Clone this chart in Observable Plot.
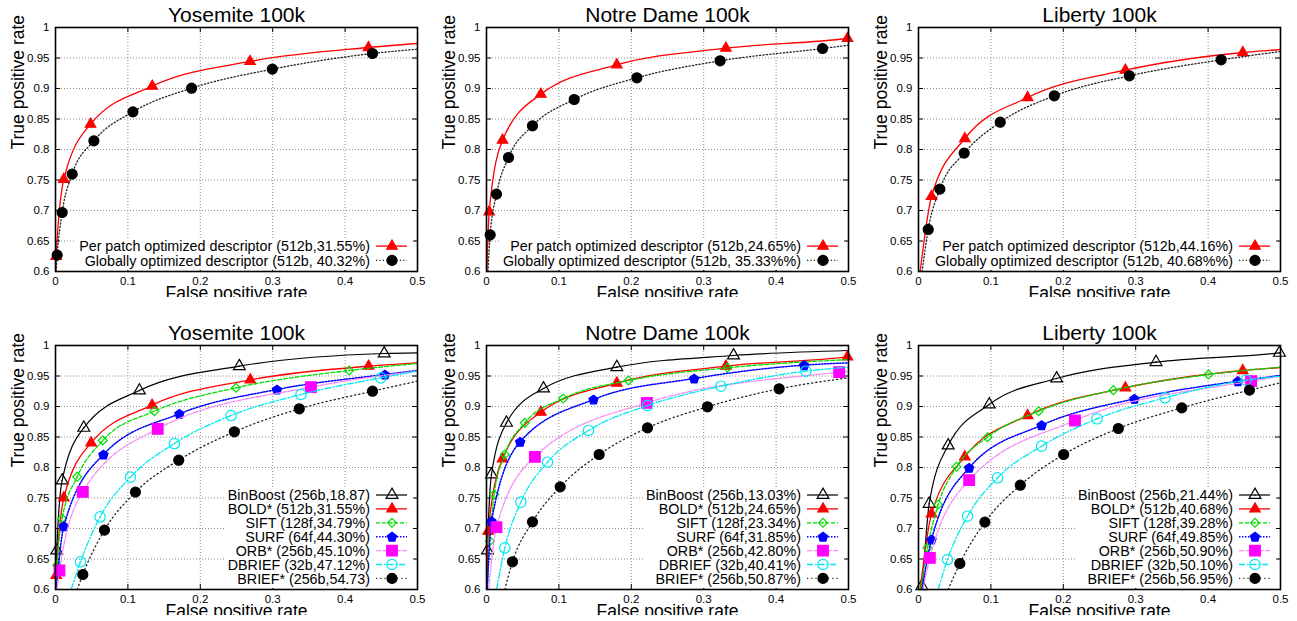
<!DOCTYPE html>
<html><head><meta charset="utf-8">
<script src="https://cdn.jsdelivr.net/npm/d3@7"></script>
<script src="https://cdn.jsdelivr.net/npm/@observablehq/plot@0.6"></script>
<style>
html,body{margin:0;padding:0;background:#fff;}
body{width:1297px;height:621px;overflow:hidden;position:relative;font-family:"Liberation Sans",Arial,sans-serif;}
.panel{position:absolute;}
.panel svg{overflow:hidden;display:block;}
</style></head>
<body>
<script>
// ---------- axis ticks ----------
const xTicks = [0, 0.1, 0.2, 0.3, 0.4, 0.5];
const yTicks = [0.6, 0.65, 0.7, 0.75, 0.8, 0.85, 0.9, 0.95, 1];
const xGrid = [0.1, 0.2, 0.3, 0.4];
const yGrid = [0.65, 0.7, 0.75, 0.8, 0.85, 0.9, 0.95];

// ---------- titles / labels ----------
const titles = ["Yosemite 100k", "Notre Dame 100k", "Liberty 100k"];
const xLabel = "False positive rate";
const yLabel = "True positive rate";
const topLabels = [
  ["Per patch optimized descriptor (512b,31.55%)", "Globally optimized descriptor (512b, 40.32%)"],
  ["Per patch optimized descriptor (512b,24.65%)", "Globally optimized descriptor (512b, 35.33%%)"],
  ["Per patch optimized descriptor (512b,44.16%)", "Globally optimized descriptor (512b, 40.68%%)"]
];
const bottomLabels = [
  ["BinBoost (256b,18.87)", "BOLD* (512b,31.55%)", "SIFT (128f,34.79%)", "SURF (64f,44.30%)", "ORB* (256b,45.10%)", "DBRIEF (32b,47.12%)", "BRIEF* (256b,54.73)"],
  ["BinBoost (256b,13.03%)", "BOLD* (512b,24.65%)", "SIFT (128f,23.34%)", "SURF (64f,31.85%)", "ORB* (256b,42.80%)", "DBRIEF (32b,40.41%)", "BRIEF* (256b,50.87%)"],
  ["BinBoost (256b,21.44%)", "BOLD* (512b,40.68%)", "SIFT (128f,39.28%)", "SURF (64f,49.85%)", "ORB* (256b,50.90%)", "DBRIEF (32b,50.10%)", "BRIEF* (256b,56.95%)"]
];

// ---------- data: markers [fpr, tpr] and curve end points ----------
// Top row
const yosPatch = [[0.001,0.625],[0.0115,0.751],[0.0484,0.8415],[0.1336,0.9038],[0.2687,0.9443],[0.4323,0.9672]];
const yosPatchEnds = [[0,0.6],[0.5,0.9738]];
const yosGlobal = [[0.0023,0.6268],[0.0092,0.6967],[0.023,0.7596],[0.053,0.8142],[0.1069,0.8617],[0.188,0.9005],[0.2995,0.9317],[0.4378,0.9574]];
const yosGlobalEnds = [[0.0008,0.6],[0.5,0.9645]];

const ndPatch = [[0.0037,0.6978],[0.0221,0.8153],[0.075,0.8907],[0.18,0.9388],[0.3306,0.9661],[0.4986,0.982]];
const ndPatchEnds = [[0.0005,0.6],[0.5,0.9822]];
const ndGlobal = [[0.0051,0.6601],[0.0138,0.7268],[0.0304,0.7869],[0.0635,0.8388],[0.1211,0.882],[0.2077,0.9175],[0.3227,0.9454],[0.4641,0.9656]];
const ndGlobalEnds = [[0.002,0.6],[0.5,0.971]];

const libPatch = [[0.018,0.723],[0.064,0.818],[0.1507,0.8852],[0.2857,0.93],[0.4479,0.959]];
const libPatchEnds = [[0.0023,0.6],[0.5,0.964]];
const libGlobal = [[0.0134,0.6689],[0.0295,0.735],[0.0631,0.794],[0.1129,0.8448],[0.1876,0.888],[0.2912,0.9208],[0.418,0.947]];
const libGlobalEnds = [[0.005,0.6],[0.5,0.9607]];

// Bottom row - Yosemite
const yosBinBoost = [[0.0018,0.6639],[0.0092,0.7787],[0.0391,0.865],[0.1159,0.9262],[0.2539,0.9661],[0.454,0.9869]];
const yosBinBoostEnds = [[0.0005,0.6],[0.5,0.988]];
const yosBold = [[0.001,0.623],[0.0115,0.7503],[0.0492,0.8404],[0.1334,0.9022],[0.2691,0.9437],[0.4324,0.9661]];
const yosBoldEnds = [[0,0.6],[0.5,0.9716]];
const yosSift = [[0.0023,0.6399],[0.0092,0.7164],[0.0299,0.7847],[0.0653,0.8443],[0.1366,0.8923],[0.2493,0.9306],[0.4057,0.959]];
const yosSiftEnds = [[0.0008,0.6],[0.5,0.9705]];
const yosSurf = [[0.0115,0.7038],[0.0662,0.8213],[0.1711,0.888],[0.3059,0.9279],[0.4549,0.9525]];
const yosSurfEnds = [[0.001,0.6],[0.5,0.959]];
const yosOrb = [[0.0055,0.6311],[0.0377,0.7601],[0.1412,0.8634],[0.3528,0.9317]];
const yosOrbEnds = [[0.002,0.6],[0.5,0.958]];
const yosDbrief = [[0.0345,0.6454],[0.0616,0.7191],[0.1035,0.7842],[0.1642,0.8393],[0.2424,0.8852],[0.339,0.9197],[0.4494,0.947]];
const yosDbriefEnds = [[0.0216,0.6],[0.5,0.958]];
const yosBrief = [[0.0377,0.6246],[0.0676,0.6973],[0.1104,0.7596],[0.1702,0.812],[0.247,0.8585],[0.3367,0.8962],[0.4379,0.9251]];
const yosBriefEnds = [[0.03,0.6],[0.5,0.9415]];

// Bottom row - Notre Dame
const ndBinBoost = [[0.0014,0.6639],[0.0069,0.7885],[0.0276,0.8732],[0.0787,0.9295],[0.18,0.9645],[0.3412,0.9836]];
const ndBinBoostEnds = [[0.0003,0.6],[0.5,0.9918]];
const ndBold = [[0.0023,0.6956],[0.0221,0.8142],[0.075,0.8907],[0.18,0.9383],[0.3306,0.9661],[0.4986,0.9814]];
const ndBoldEnds = [[0.0003,0.6],[0.5,0.9816]];
const ndSift = [[0.0046,0.6792],[0.0106,0.7557],[0.0253,0.8213],[0.053,0.8732],[0.1059,0.9131],[0.1961,0.9426],[0.3329,0.9634]];
const ndSiftEnds = [[0.001,0.6],[0.5,0.977]];
const ndSurf = [[0.0069,0.712],[0.0465,0.8421],[0.1478,0.9115],[0.2868,0.9459],[0.4387,0.9678]];
const ndSurfEnds = [[0.001,0.6],[0.5,0.9716]];
const ndOrb = [[0.0138,0.7022],[0.0668,0.8175],[0.2215,0.906],[0.4871,0.9563]];
const ndOrbEnds = [[0.003,0.6],[0.5,0.958]];
const ndDbrief = [[0.0253,0.6683],[0.0474,0.7432],[0.0843,0.8087],[0.1409,0.8607],[0.2224,0.9016],[0.3237,0.9333],[0.4411,0.9579]];
const ndDbriefEnds = [[0.0138,0.6],[0.5,0.9645]];
const ndBrief = [[0.0359,0.6454],[0.0635,0.7109],[0.1018,0.7683],[0.1556,0.8213],[0.2224,0.865],[0.3052,0.8995],[0.4042,0.929]];
const ndBriefEnds = [[0.0253,0.6],[0.5,0.947]];

// Bottom row - Liberty
const libBinBoost = [[0.0046,0.6055],[0.0147,0.7404],[0.041,0.8361],[0.0977,0.9033],[0.1908,0.9459],[0.3281,0.9727],[0.4986,0.988]];
const libBinBoostEnds = [[0.004,0.6],[0.5,0.9882]];
const libBold = [[0.018,0.724],[0.064,0.8175],[0.1507,0.8852],[0.2857,0.9306],[0.4479,0.959]];
const libBoldEnds = [[0.0023,0.6],[0.5,0.964]];
const libSift = [[0.0124,0.6683],[0.0272,0.7393],[0.0525,0.8011],[0.0954,0.8497],[0.1659,0.8923],[0.2691,0.9268],[0.4005,0.9525]];
const libSiftEnds = [[0.003,0.6],[0.5,0.9645]];
const libSurf = [[0.018,0.682],[0.07,0.7995],[0.17,0.8694],[0.2982,0.9126],[0.441,0.9415]];
const libSurfEnds = [[0.005,0.6],[0.5,0.9508]];
const libOrb = [[0.0157,0.6519],[0.07,0.7792],[0.2161,0.877],[0.4594,0.9415]];
const libOrbEnds = [[0.006,0.6],[0.5,0.9497]];
const libDbrief = [[0.0401,0.6492],[0.0677,0.7202],[0.1092,0.7831],[0.17,0.835],[0.2465,0.8798],[0.3406,0.9142],[0.4525,0.9432]];
const libDbriefEnds = [[0.0272,0.6],[0.5,0.9497]];
const libBrief = [[0.0571,0.6426],[0.0917,0.7104],[0.1406,0.771],[0.2005,0.8213],[0.276,0.8639],[0.3636,0.8978],[0.4571,0.9268]];
const libBriefEnds = [[0.041,0.6],[0.5,0.9388]];

// ---------- styles ----------
const pentagon = {
  draw(ctx, size) {
    const R = Math.sqrt(size / (2.5 * Math.sin(2 * Math.PI / 5)));
    for (let i = 0; i < 5; i++) {
      const a = -Math.PI / 2 + i * 2 * Math.PI / 5;
      const px = R * Math.cos(a), py = R * Math.sin(a) + R * 0.1;
      if (i === 0) ctx.moveTo(px, py); else ctx.lineTo(px, py);
    }
    ctx.closePath();
  }
};
const STY = {
  patch:    {line: "#ff0000", w: 1.3, dash: null,          sym: d3.symbolTriangle, r: 3.9, fill: "#ff0000", mstroke: "#ff0000", open: false},
  global:   {line: "#222",    w: 1.3, dash: "1.2,2.2",     sym: d3.symbolCircle,   r: 5.0, fill: "#000",    mstroke: "#000",    open: false},
  binboost: {line: "#000",    w: 1.2, dash: null,          sym: d3.symbolTriangle, r: 4.4, fill: "none",    mstroke: "#000",    open: true},
  bold:     {line: "#ff0000", w: 1.3, dash: null,          sym: d3.symbolTriangle, r: 3.9, fill: "#ff0000", mstroke: "#ff0000", open: false},
  sift:     {line: "#00dd00", w: 1.3, dash: "4,2",         sym: d3.symbolDiamond2, r: 4.0, fill: "none",    mstroke: "#00dd00", open: true},
  surf:     {line: "#0000ff", w: 1.5, dash: "1.5,1.5",     sym: pentagon,          r: 4.2, fill: "#0000ff", mstroke: "#0000ff", open: false},
  orb:      {line: "#f58cf5", w: 1.3, dash: "5,1.5",       sym: d3.symbolSquare,   r: 6.0, fill: "#ff00ff", mstroke: "#ff00ff", open: false},
  dbrief:   {line: "#00e8f0", w: 1.3, dash: "6,2,1.5,2",   sym: d3.symbolCircle,   r: 5.2, fill: "none",    mstroke: "#00e8f0", open: true},
  brief:    {line: "#222",    w: 1.3, dash: "1.2,3",       sym: d3.symbolCircle,   r: 5.0, fill: "#000",    mstroke: "#000",    open: false}
};

// ---------- panels ----------
const panels = [
  {title: titles[0], left: 0,     top: 0,     legendRow: 14.3, series: [
    {key: "patch", pts: yosPatch, ends: yosPatchEnds, label: topLabels[0][0]},
    {key: "global", pts: yosGlobal, ends: yosGlobalEnds, label: topLabels[0][1]}]},
  {title: titles[1], left: 430.7, top: 0,     legendRow: 14.3, series: [
    {key: "patch", pts: ndPatch, ends: ndPatchEnds, label: topLabels[1][0]},
    {key: "global", pts: ndGlobal, ends: ndGlobalEnds, label: topLabels[1][1]}]},
  {title: titles[2], left: 862.7, top: 0,     legendRow: 14.3, series: [
    {key: "patch", pts: libPatch, ends: libPatchEnds, label: topLabels[2][0]},
    {key: "global", pts: libGlobal, ends: libGlobalEnds, label: topLabels[2][1]}]},
  {title: titles[0], left: 0,     top: 317.6, legendRow: 13.9, series: [
    {key: "binboost", pts: yosBinBoost, ends: yosBinBoostEnds, label: bottomLabels[0][0]},
    {key: "bold", pts: yosBold, ends: yosBoldEnds, label: bottomLabels[0][1]},
    {key: "sift", pts: yosSift, ends: yosSiftEnds, label: bottomLabels[0][2]},
    {key: "surf", pts: yosSurf, ends: yosSurfEnds, label: bottomLabels[0][3]},
    {key: "orb", pts: yosOrb, ends: yosOrbEnds, label: bottomLabels[0][4]},
    {key: "dbrief", pts: yosDbrief, ends: yosDbriefEnds, label: bottomLabels[0][5]},
    {key: "brief", pts: yosBrief, ends: yosBriefEnds, label: bottomLabels[0][6]}]},
  {title: titles[1], left: 430.7, top: 317.6, legendRow: 13.9, series: [
    {key: "binboost", pts: ndBinBoost, ends: ndBinBoostEnds, label: bottomLabels[1][0]},
    {key: "bold", pts: ndBold, ends: ndBoldEnds, label: bottomLabels[1][1]},
    {key: "sift", pts: ndSift, ends: ndSiftEnds, label: bottomLabels[1][2]},
    {key: "surf", pts: ndSurf, ends: ndSurfEnds, label: bottomLabels[1][3]},
    {key: "orb", pts: ndOrb, ends: ndOrbEnds, label: bottomLabels[1][4]},
    {key: "dbrief", pts: ndDbrief, ends: ndDbriefEnds, label: bottomLabels[1][5]},
    {key: "brief", pts: ndBrief, ends: ndBriefEnds, label: bottomLabels[1][6]}]},
  {title: titles[2], left: 862.7, top: 317.6, legendRow: 13.9, series: [
    {key: "binboost", pts: libBinBoost, ends: libBinBoostEnds, label: bottomLabels[2][0]},
    {key: "bold", pts: libBold, ends: libBoldEnds, label: bottomLabels[2][1]},
    {key: "sift", pts: libSift, ends: libSiftEnds, label: bottomLabels[2][2]},
    {key: "surf", pts: libSurf, ends: libSurfEnds, label: bottomLabels[2][3]},
    {key: "orb", pts: libOrb, ends: libOrbEnds, label: bottomLabels[2][4]},
    {key: "dbrief", pts: libDbrief, ends: libDbriefEnds, label: bottomLabels[2][5]},
    {key: "brief", pts: libBrief, ends: libBriefEnds, label: bottomLabels[2][6]}]}
];

// ---------- drawing ----------
const FONT = "'Liberation Sans', Arial, Helvetica, sans-serif";
const ML = 55, MT = 27, FW = 362, FH = 244, MR = 13, MB = 26;
const W = ML + FW + MR, H = MT + FH + MB;
const fmt = d => String(+d.toFixed(2));
const X = d => d[0], Y = d => d[1];

function drawPanel(p) {
  const marks = [
    Plot.ruleX(xGrid, {stroke: "#808080", strokeWidth: 0.9, strokeDasharray: "1,2"}),
    Plot.ruleY(yGrid, {stroke: "#808080", strokeWidth: 0.9, strokeDasharray: "1,2"}),
    Plot.ruleX(xTicks, {insetTop: FH - 5, stroke: "#000"}),
    Plot.ruleX(xTicks, {insetBottom: FH - 5, stroke: "#000"}),
    Plot.ruleY(yTicks, {insetRight: FW - 5, stroke: "#000"}),
    Plot.ruleY(yTicks, {insetLeft: FW - 5, stroke: "#000"})
  ];
  for (const s of p.series) {
    const st = STY[s.key];
    marks.push(Plot.line([s.ends[0], ...s.pts, s.ends[1]], {
      x: X, y: Y, curve: "monotone-x", stroke: st.line, strokeWidth: st.w,
      strokeDasharray: st.dash, clip: true
    }));
    marks.push(Plot.dot(s.pts, {x: X, y: Y, symbol: st.sym, r: st.r, fill: st.fill, stroke: st.mstroke, strokeWidth: 1.2}));
    if (st.open) marks.push(Plot.dot(s.pts, {x: X, y: Y, r: 0.8, fill: st.mstroke}));
  }
  marks.push(
    Plot.frame({stroke: "#000", strokeWidth: 1.6}),
    Plot.axisX({ticks: xTicks, tickFormat: fmt, tickSize: 0, tickPadding: 5, label: null, fontSize: 11.5}),
    Plot.axisY({ticks: yTicks, tickFormat: fmt, tickSize: 0, tickPadding: 6, label: null, fontSize: 11.5}),
    Plot.text([p.title], {frameAnchor: "top", dy: -6, lineAnchor: "bottom", fontSize: 21, fill: "#000"}),
    Plot.text([xLabel], {frameAnchor: "bottom", dy: 27, lineAnchor: "bottom", fontSize: 17.5, fill: "#000"}),
    Plot.text([yLabel], {frameAnchor: "left", dx: -31.5, rotate: -90, lineAnchor: "bottom", fontSize: 17.5, fill: "#000"})
  );
  const svg = Plot.plot({
    width: W, height: H, marginLeft: ML, marginRight: MR, marginTop: MT, marginBottom: MB,
    style: {fontFamily: FONT, fontSize: "12px", background: "white", color: "black", overflow: "hidden"},
    x: {domain: [0, 0.5]},
    y: {domain: [0.6, 1]},
    marks
  });
  const div = document.createElement("div");
  div.className = "panel";
  div.style.left = p.left + "px";
  div.style.top = p.top + "px";
  div.appendChild(svg);
  document.body.appendChild(div);
  drawLegend(svg, p);
}

function drawLegend(svgEl, p) {
  const R = ML + FW, B = MT + FH, n = p.series.length;
  const g = d3.select(svgEl).append("g").attr("font-family", FONT).attr("font-size", 14.3);
  const rows = p.series.map((s, i) => B - 10.6 - (n - 1 - i) * p.legendRow);
  const bg = g.append("rect").attr("fill", "white");
  let maxW = 0;
  p.series.forEach((s, i) => {
    const st = STY[s.key], y = rows[i];
    const t = g.append("text").attr("x", R - 47).attr("y", y).attr("dy", "0.36em")
      .attr("text-anchor", "end").attr("fill", "#000").text(s.label);
    maxW = Math.max(maxW, t.node().getComputedTextLength());
    g.append("line").attr("x1", R - 41).attr("x2", R - 10).attr("y1", y).attr("y2", y)
      .attr("stroke", st.line).attr("stroke-width", st.w).attr("stroke-dasharray", st.dash);
    g.append("path").attr("transform", `translate(${R - 25},${y})`)
      .attr("d", d3.symbol(st.sym, st.r * st.r * Math.PI)())
      .attr("fill", st.fill).attr("stroke", st.mstroke).attr("stroke-width", 1.2);
    if (st.open) g.append("circle").attr("cx", R - 25).attr("cy", y).attr("r", 0.8).attr("fill", st.mstroke);
  });
  const top = rows[0] - 7;
  bg.attr("x", R - 47 - maxW - 3).attr("y", top).attr("width", maxW + 3 + 47 - 4).attr("height", B - 1 - top);
}

panels.forEach(drawPanel);
</script>
</body></html>
